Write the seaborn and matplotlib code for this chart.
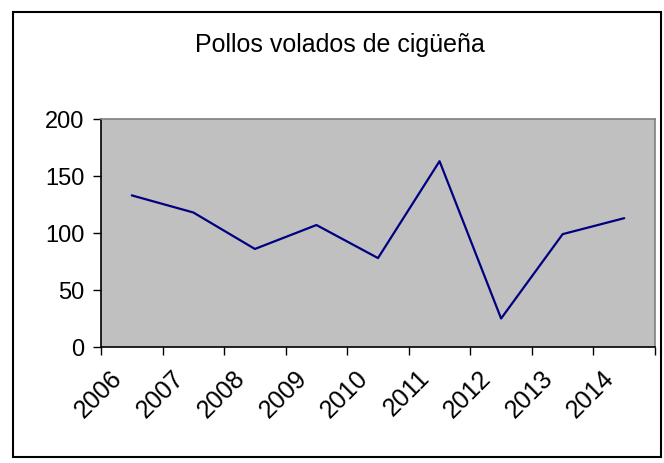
import matplotlib
matplotlib.use("Agg")
import matplotlib.pyplot as plt
import matplotlib.transforms as mtransforms
import seaborn as sns
import pandas as pd
import numpy as np
from matplotlib.patches import Rectangle

# ================= DATA =================
years = ["2006", "2007", "2008", "2009", "2010", "2011", "2012", "2013", "2014"]
chicks = [133, 118, 86, 107, 78, 163, 25, 99, 113]

df = pd.DataFrame({"year": years, "chicks": chicks})

# ================= STYLE =================
sns.set_style("white")
plt.rcParams["font.family"] = ["Liberation Sans", "DejaVu Sans"]
plt.rcParams["text.color"] = "black"
plt.rcParams["xtick.color"] = "black"
plt.rcParams["ytick.color"] = "black"

fig = plt.figure(figsize=(6.64, 4.64), dpi=100)
ax = fig.add_axes([101 / 664, 1 - 348 / 464, 554 / 664, 228 / 464])
ax.set_facecolor("#C0C0C0")

sns.lineplot(data=df, x="year", y="chicks", color="#000080", linewidth=1.6, ax=ax)

# ================= AXES =================
n = len(years)
ax.set_xlim(-0.5, n - 0.5)
ax.set_ylim(0, 200)
ax.set_yticks([0, 50, 100, 150, 200])
ax.tick_params(axis="y", which="major", direction="out", length=6, width=1,
               color="black", labelcolor="black", labelsize=17, pad=6, left=True)

ax.set_xticks(np.arange(-0.5, n, 1.0))
ax.set_xticklabels([])
ax.set_xticks(np.arange(n), minor=True)
ax.set_xticklabels(years, minor=True, rotation=45, ha="right",
                   rotation_mode="anchor", fontsize=18, color="black")
ax.tick_params(axis="x", which="minor", length=0, pad=13)
ax.tick_params(axis="x", which="major", direction="out", length=6, width=1,
               color="black", bottom=True)

# nudge year labels to the left, like the original
shift = mtransforms.ScaledTranslation(-22 / 100, 0, fig.dpi_scale_trans)
for lab in ax.get_xticklabels(minor=True):
    lab.set_transform(lab.get_transform() + shift)

ax.set_xlabel("")
ax.set_ylabel("")

for s in ["left", "bottom"]:
    ax.spines[s].set_color("black")
    ax.spines[s].set_linewidth(1.2)
for s in ["top", "right"]:
    ax.spines[s].set_color("#808080")
    ax.spines[s].set_linewidth(1.2)

fig.text(340 / 664, 1 - 45 / 464, "Pollos volados de cigüeña",
         ha="center", va="center", fontsize=18, color="black")

# outer chart border
fig.patches.append(Rectangle((13 / 664, 1 - 458 / 464), 648 / 664, 445 / 464,
                             transform=fig.transFigure, fill=False,
                             edgecolor="black", linewidth=1.5))

fig.savefig("out.png", dpi=100)
